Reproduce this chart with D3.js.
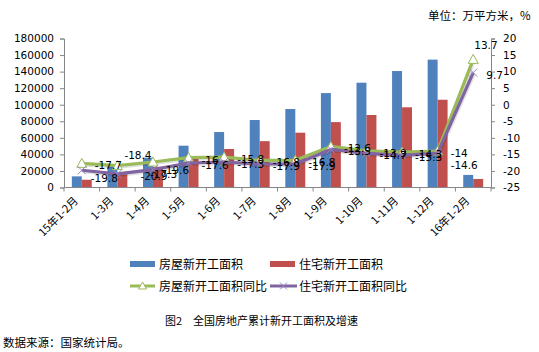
<!DOCTYPE html>
<html><head><meta charset="utf-8">
<script src="https://cdn.jsdelivr.net/npm/d3@7"></script>
<style>
body{margin:0;background:#fff;}
svg{display:block;}
</style></head>
<body>
<svg id="chart" width="539" height="352"></svg>
<script>
const categories = ["15年1-2月","1-3月","1-4月","1-5月","1-6月","1-7月","1-8月","1-9月","1-10月","1-11月","1-12月","16年1-2月"];
const houseArea = [13473, 28129, 36000, 50500, 67000, 81500, 94800, 114052, 126600, 140700, 154454, 15189];
const residArea = [9337, 16000, 25000, 35000, 46500, 56000, 66200, 79000, 87600, 96900, 106000, 10300];
const houseYoY = [-17.7, -18.4, -17.3, -16, -15.8, -16.8, -16.8, -12.6, -13.9, -14.3, -14, 13.7];
const residYoY = [-19.8, -20.9, -19.6, -17.6, -17.3, -17.9, -17.9, -13.5, -14.7, -15.3, -14.6, 9.7];
const leftTicks = [0,20000,40000,60000,80000,100000,120000,140000,160000,180000];
const rightTicks = [-25,-20,-15,-10,-5,0,5,10,15,20];
const seriesNames = ["房屋新开工面积","住宅新开工面积","房屋新开工面积同比","住宅新开工面积同比"];

const C = {blue:"#4F81BD", red:"#C0504D", green:"#9BBB59", purple:"#8064A2", axis:"#868686"};
const numFont = "'DejaVu Sans', Verdana, sans-serif";
const cjkFont = "'Noto Sans CJK SC', 'Noto Sans', sans-serif";

const svg = d3.select("#chart");
const L = 64, R = 491, T = 38.5, B = 187.5;

const x = d3.scaleBand().domain(categories).range([L, R]).padding(0);
const yL = d3.scaleLinear().domain([0, 180000]).range([B, T]);
const yR = d3.scaleLinear().domain([-25, 20]).range([B, T]);
const bw = x.bandwidth() * 0.28;
const cx = c => x(c) + x.bandwidth() / 2;

// bars
const barG = svg.append("g");
barG.selectAll(".hb").data(categories).enter().append("rect")
  .attr("x", c => cx(c) - bw).attr("width", bw)
  .attr("y", (c,i) => yL(houseArea[i])).attr("height", (c,i) => B - yL(houseArea[i]))
  .attr("fill", C.blue);
barG.selectAll(".rb").data(categories).enter().append("rect")
  .attr("x", c => cx(c)).attr("width", bw)
  .attr("y", (c,i) => yL(residArea[i])).attr("height", (c,i) => B - yL(residArea[i]))
  .attr("fill", C.red);

// left axis
const axL = svg.append("g").attr("transform", `translate(${L},0)`)
  .call(d3.axisLeft(yL).tickValues(leftTicks).tickSize(4).tickPadding(6).tickFormat(d => String(d)));
// right axis
const axR = svg.append("g").attr("transform", `translate(${R},0)`)
  .call(d3.axisRight(yR).tickValues(rightTicks).tickSize(4).tickPadding(8).tickFormat(d => String(d)));
[axL, axR].forEach(a => {
  a.selectAll("path.domain").attr("stroke", C.axis);
  a.selectAll(".tick line").attr("stroke", C.axis);
  a.selectAll("text").attr("font-family", numFont).attr("font-size", "10.5px").attr("fill", "#000");
});

// bottom axis
const axB = svg.append("g");
axB.append("line").attr("x1", L).attr("x2", R).attr("y1", B).attr("y2", B).attr("stroke", C.axis);
const bounds = categories.map(c => x(c)).concat([x(categories[categories.length-1]) + x.bandwidth()]);
axB.selectAll(".bt").data(bounds).enter().append("line")
  .attr("x1", d => d).attr("x2", d => d).attr("y1", B).attr("y2", B + 4).attr("stroke", C.axis);
axB.selectAll(".bl").data(categories).enter().append("text")
  .attr("transform", c => `translate(${cx(c) - 3},${B + 14}) rotate(-45)`)
  .attr("text-anchor", "end")
  .attr("font-family", cjkFont).attr("font-size", "11px").attr("fill", "#000")
  .text(c => c);

// lines
function drawLine(vals, color, marker) {
  const g = svg.append("g");
  const line = d3.line().x((d,i) => cx(categories[i])).y(d => yR(d));
  g.append("path").datum(vals).attr("d", line)
    .attr("fill", "none").attr("stroke", "rgba(0,0,0,0.12)").attr("stroke-width", 3.2)
    .attr("transform", "translate(1,1.5)");
  g.append("path").datum(vals).attr("d", line)
    .attr("fill", "none").attr("stroke", color).attr("stroke-width", 3.2).attr("stroke-linejoin", "round");
  vals.forEach((v,i) => {
    const px = cx(categories[i]), py = yR(v);
    if (marker === "tri") {
      g.append("path").attr("d", `M${px},${py-5} L${px+5},${py+4} L${px-5},${py+4} Z`)
        .attr("fill", "#fff").attr("stroke", color).attr("stroke-width", 1);
    } else {
      g.append("path").attr("d", `M${px-4},${py-4} L${px+4},${py+4} M${px-4},${py+4} L${px+4},${py-4}`)
        .attr("stroke", "#9B87BF").attr("stroke-width", 1);
    }
  });
  return g;
}
drawLine(houseYoY, C.green, "tri");
drawLine(residYoY, C.purple, "x");

// data labels (Excel "right" placement, a few nudged as in the source)
const labG = svg.append("g").attr("font-family", numFont).attr("font-size", "10.5px").attr("fill", "#000");
const greenNudge = {1: [-6, -11], 2: [-16, 12], 11: [-12, -14]};
const purpleNudge = {0: [-4, 8], 1: [10, 2], 2: [-4, 0], 10: [0, 12]};
houseYoY.forEach((v,i) => {
  const n = greenNudge[i] || [0, 2];
  labG.append("text").attr("x", cx(categories[i]) + 13 + n[0]).attr("y", yR(v) + 4 + n[1]).text(String(v));
});
residYoY.forEach((v,i) => {
  const n = purpleNudge[i] || [0, 2];
  labG.append("text").attr("x", cx(categories[i]) + 13 + n[0]).attr("y", yR(v) + 4 + n[1]).text(String(v));
});

// legend
const lg = svg.append("g").attr("font-family", cjkFont).attr("font-size", "12px").attr("fill", "#000");
lg.append("rect").attr("x", 130).attr("y", 261).attr("width", 25).attr("height", 6).attr("fill", C.blue);
lg.append("text").attr("x", 159).attr("y", 268.5).text(seriesNames[0]);
lg.append("rect").attr("x", 270).attr("y", 261).attr("width", 25).attr("height", 6).attr("fill", C.red);
lg.append("text").attr("x", 299).attr("y", 268.5).text(seriesNames[1]);
lg.append("line").attr("x1", 130).attr("x2", 155).attr("y1", 286).attr("y2", 286).attr("stroke", C.green).attr("stroke-width", 3);
lg.append("path").attr("d", "M142.5,282 L146.5,289 L138.5,289 Z").attr("fill", "#fff").attr("stroke", C.green).attr("stroke-width", 1);
lg.append("text").attr("x", 159).attr("y", 290.5).text(seriesNames[2]);
lg.append("line").attr("x1", 270).attr("x2", 297).attr("y1", 286).attr("y2", 286).attr("stroke", C.purple).attr("stroke-width", 3);
lg.append("path").attr("d", "M280,282.5 L287,289.5 M280,289.5 L287,282.5").attr("stroke", "#9B87BF").attr("stroke-width", 1);
lg.append("text").attr("x", 299).attr("y", 290.5).text(seriesNames[3]);

// texts
svg.append("text").attr("x", 428).attr("y", 19.5).attr("font-family", cjkFont).attr("font-size", "11.5px").text("单位：万平方米，%");
svg.append("text").attr("x", 165).attr("y", 325).attr("font-family", cjkFont).attr("font-size", "11px").text("图2　全国房地产累计新开工面积及增速");
svg.append("text").attr("x", 3).attr("y", 347).attr("font-family", cjkFont).attr("font-size", "11.5px").text("数据来源：国家统计局。");
</script>
</body></html>
